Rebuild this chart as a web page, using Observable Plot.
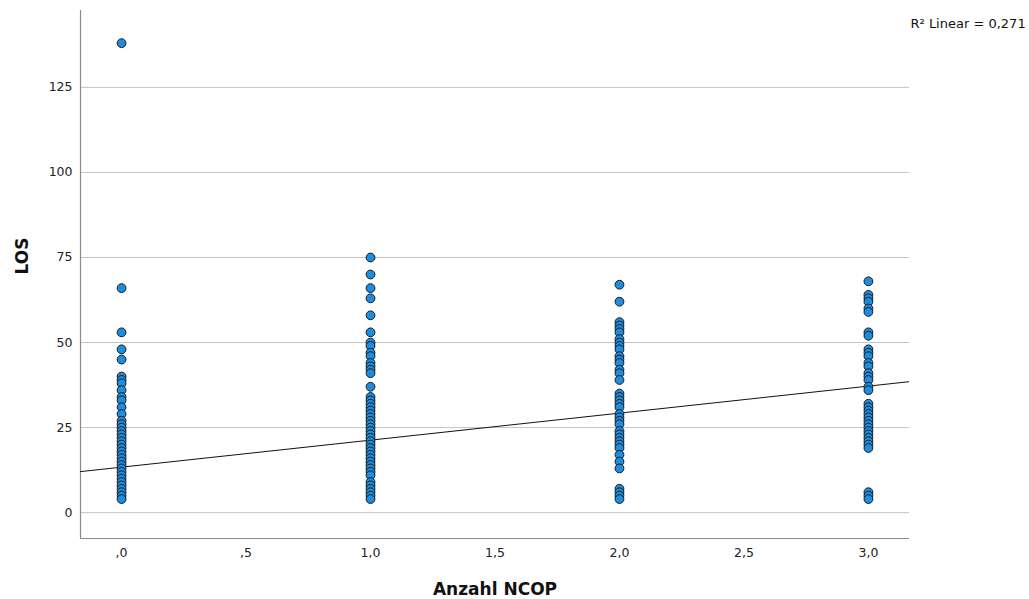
<!DOCTYPE html>
<html>
<head>
<meta charset="utf-8">
<script src="https://cdn.jsdelivr.net/npm/d3@7"></script>
<script src="https://cdn.jsdelivr.net/npm/@observablehq/plot@0.6"></script>
<style>
  html, body { margin: 0; padding: 0; background: #fff; }
  #chart svg { display: block; }
</style>
</head>
<body>
<div id="chart"></div>
<script>
// Anzahl NCOP groups and LOS values
const ncopGroups = [0, 1, 2, 3];
const los0 = [138, 66, 53, 48, 45, 40, 39, 38, 36, 34, 33, 31, 29, 27, 26, 25, 24, 23, 22, 21, 20, 19, 18, 17, 16, 15, 14, 13, 12, 11, 10, 9, 8, 7, 6, 5, 4];
const los1 = [75, 70, 66, 63, 58, 53, 50, 49, 47, 46, 44, 43, 42, 41, 37, 34, 33, 32, 31, 30, 29, 28, 27, 26, 25, 24, 23, 22, 21, 20, 19, 18, 17, 16, 15, 14, 13, 12, 11, 9, 8, 7, 6, 5, 4];
const los2 = [67, 62, 56, 55, 54, 53, 51, 50, 49, 48, 46, 45, 44, 42, 41, 39, 35, 34, 33, 32, 31, 29, 28, 27, 26, 24, 23, 22, 21, 20, 19, 17, 15, 13, 7, 6, 5, 4];
const los3 = [68, 64, 63, 62, 60, 59, 53, 52, 48, 47, 46, 44, 43, 41, 40, 39, 37, 36, 32, 31, 30, 29, 28, 27, 26, 25, 24, 23, 22, 21, 20, 19, 6, 5, 4];

// Linear fit and its label
const fitIntercept = 13.37;
const fitSlope = 7.94;
const fitLabel = "R\u00B2 Linear = 0,271";

// Axes
const xTicks = [0, 0.5, 1, 1.5, 2, 2.5, 3];
const xTickLabels = [",0", ",5", "1,0", "1,5", "2,0", "2,5", "3,0"];
const yTicks = [0, 25, 50, 75, 100, 125];
const xDomain = [-0.165, 3.165];
const yDomain = [-7.6, 147.6];
const xTitle = "Anzahl NCOP";
const yTitle = "LOS";

const groups = [los0, los1, los2, los3];
const points = groups.flatMap((vals, i) => vals.map(v => ({ncop: ncopGroups[i], los: v})));
const fitLine = xDomain.map(x => ({x, y: fitIntercept + fitSlope * x}));

const chart = Plot.plot({
  width: 1029,
  height: 599,
  marginLeft: 80,
  marginRight: 120,
  marginTop: 10,
  marginBottom: 61,
  style: {fontFamily: "DejaVu Sans, sans-serif", fontSize: "12.5px", color: "#222", background: "#fff"},
  x: {domain: xDomain},
  y: {domain: yDomain},
  marks: [
    Plot.gridY(yTicks, {stroke: "#c4c4c4", strokeOpacity: 1, strokeWidth: 1}),
    Plot.ruleX([xDomain[0]], {stroke: "#8a8a8a", strokeWidth: 1.2}),
    Plot.ruleY([yDomain[0]], {stroke: "#8a8a8a", strokeWidth: 1.2}),
    Plot.axisY(yTicks, {tickSize: 0, tickPadding: 8, label: null, fill: "#222"}),
    Plot.axisX(xTicks, {tickSize: 0, tickPadding: 10, label: null, fill: "#222",
      tickFormat: d => xTickLabels[xTicks.indexOf(d)]}),
    Plot.line(fitLine, {x: "x", y: "y", stroke: "#111", strokeWidth: 1, clip: true}),
    Plot.dot(points, {x: "ncop", y: "los", r: 4.4, fill: "#1e8de0", stroke: "#1a1a1a", strokeWidth: 1}),
    Plot.text([xTitle], {frameAnchor: "bottom", dy: 56, fontWeight: "bold", fontSize: 17, fill: "#111"}),
    Plot.text([yTitle], {frameAnchor: "left", dx: -58, rotate: -90, fontWeight: "bold", fontSize: 17, fill: "#111"}),
    Plot.text([fitLabel], {frameAnchor: "top-right", textAnchor: "start", dx: 1, dy: 8, fontSize: 13, fill: "#111"})
  ]
});
document.getElementById("chart").appendChild(chart);
</script>
</body>
</html>
